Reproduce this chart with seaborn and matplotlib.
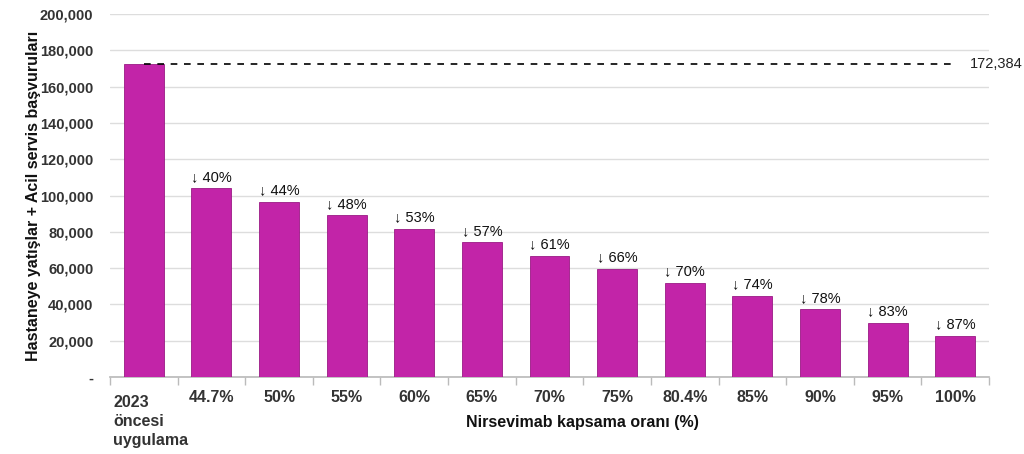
import numpy as np
import pandas as pd
import seaborn as sns
import matplotlib.pyplot as plt
from matplotlib.ticker import FuncFormatter, FixedLocator
from matplotlib.transforms import ScaledTranslation

# data
categories = ['2023\nöncesi\nuygulama', '44.7%', '50%', '55%', '60%', '65%', '70%',
              '75%', '80.4%', '85%', '90%', '95%', '100%']
values = [172384, 104000, 96500, 89000, 81500, 74200, 66800,
          59500, 51800, 44600, 37300, 30000, 22600]
reductions = [None, '40%', '44%', '48%', '53%', '57%', '61%',
              '66%', '70%', '74%', '78%', '83%', '87%']
baseline = 172384

sns.set_theme(style='white')
plt.rcParams['font.family'] = ['Liberation Sans', 'DejaVu Sans']

df = pd.DataFrame({'kategori': categories, 'deger': values})

fig = plt.figure(figsize=(10.24, 4.54), dpi=100)
ax = fig.add_axes([0.1074, 0.1696, 0.8584, 0.7995])

sns.barplot(data=df, x='kategori', y='deger', order=categories, color='#C224A8',
            saturation=1, width=0.59, edgecolor='#9A1A85', linewidth=0.6, ax=ax, zorder=3)

# reduction labels over the bars
for i, (v, r) in enumerate(zip(values, reductions)):
    if r:
        ax.text(i, v + 2500, '↓ ' + r, ha='center', va='bottom', fontsize=10.5, color='#111111')

# baseline dashed line
ax.plot([0, len(categories) - 1], [baseline, baseline], ls=(0, (4, 4)), color='black',
        lw=1.2, zorder=4)
ax.text(len(categories) - 0.78, baseline, f'{baseline:,}', ha='left', va='center',
        fontsize=10.5, color='#222222')

ax.set_xlim(-0.5, len(categories) - 0.5)
ax.set_ylim(0, 200000)
ax.set_yticks(np.arange(0, 200001, 20000))
ax.yaxis.set_major_formatter(FuncFormatter(lambda y, p: '-' if y == 0 else f'{int(y):,}'))
ax.grid(axis='y', color='#DDDDDD', lw=1, zorder=0)

for s in ['top', 'right', 'left']:
    ax.spines[s].set_visible(False)
ax.spines['bottom'].set_color('#BBBBBB')

ax.xaxis.set_minor_locator(FixedLocator(np.arange(-0.5, len(categories), 1)))
ax.tick_params(axis='x', which='minor', length=6, color='#BBBBBB', bottom=True)
ax.tick_params(axis='x', which='major', length=0, pad=9)
ax.tick_params(axis='y', length=0, pad=12)

for lab in ax.get_xticklabels():
    lab.set_fontsize(11.5)
    lab.set_fontweight('bold')
    lab.set_color('#333333')
first = ax.get_xticklabels()[0]
first.set_multialignment('left')
first.set_linespacing(1.35)
first.set_transform(first.get_transform() + ScaledTranslation(0.07, -0.05, fig.dpi_scale_trans))
for lab in ax.get_yticklabels():
    lab.set_fontsize(10.5)
    lab.set_fontweight('bold')
    lab.set_color('#333333')

ax.set_xlabel('Nirsevimab kapsama oranı (%)', fontsize=11.5, fontweight='bold', color='#111111')
ax.xaxis.set_label_coords(0.538, -0.105)
ax.set_ylabel('Hastaneye yatışlar + Acil servis başvuruları', fontsize=11.5, fontweight='bold',
              color='#111111')
ax.yaxis.set_label_coords(-0.078, 0.5)

fig.savefig('out.png', dpi=100)
